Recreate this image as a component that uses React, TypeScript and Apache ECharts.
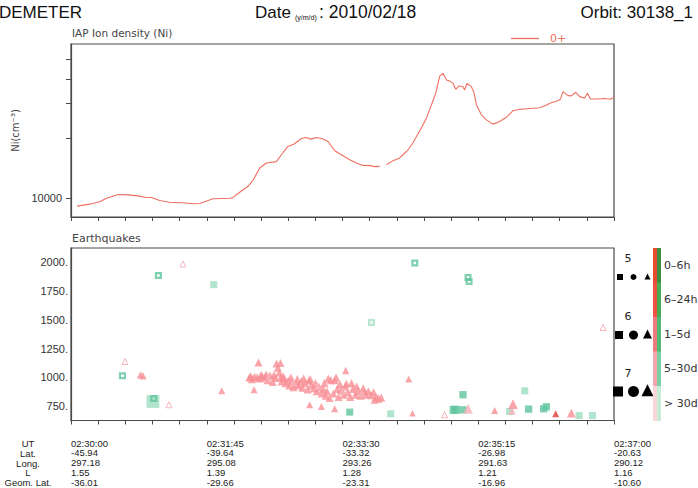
import React, { useEffect, useRef } from 'react';
import * as echarts from 'echarts';

// Orbit table (x axis of the earthquake panel), seconds after 02:30:00
const utSeconds = [0, 105, 210, 315, 420];
const utLabels = ['02:30:00', '02:31:45', '02:33:30', '02:35:15', '02:37:00'];
const latValues = ['-45.94', '-39.64', '-33.32', '-26.98', '-20.63'];
const longValues = ['297.18', '295.08', '293.26', '291.63', '290.12'];
const lValues = ['1.55', '1.39', '1.28', '1.21', '1.16'];
const geomLatValues = ['-36.01', '-29.66', '-23.31', '-16.96', '-10.60'];
const rowNames = ['UT', 'Lat.', 'Long.', 'L', 'Geom. Lat.'];

// Ni tick values
const niTicks = [10000, 20000, 30000, 40000, 50000];
const niLabels = [10000];
const quakeTicks = [750, 1000, 1250, 1500, 1750, 2000];

// IAP O+ ion density: [seconds after 02:30:00, Ni (cm^-3)]
const ionDensity: any[] = [
  [4.6, 9080], [14.5, 9290], [22.2, 9550], [27.4, 9950], [36.4, 10390], [44.1, 10350],
  [51.8, 10230], [58.3, 10040], [62.2, 10040], [68.6, 9690], [76.3, 9500], [85.4, 9440],
  [95.7, 9330], [99.6, 9360], [109.8, 9890], [122.8, 9950], [124.8, 10000], [130.5, 10670],
  [136.9, 11440], [140.8, 12270], [146, 14160], [151.1, 15000], [158.9, 15240], [162.7, 16520],
  [167.8, 18200], [173, 18780], [178.2, 19960], [181.5, 20180], [185.9, 19820], [189.8, 20180],
  [194.5, 19900], [198.8, 19280], [204, 17300], [207.8, 16700], [215.6, 15600], [220.8, 15000],
  [225.9, 14590], [231, 14550], [234.9, 14380], [238.8, 14420], [241.4, '-'], [244, 14700],
  [249.1, 15420], [254.2, 15910], [256.8, 16520], [260.7, 17500], [264.5, 18930], [267.2, 20420],
  [271, 22540], [274.9, 25300], [278.8, 29500], [282.1, 33800], [285.2, 41300], [287.7, 42650],
  [290.4, 39450], [292.9, 38960], [295.5, 37940], [297.6, 35400], [300.1, 36800], [303.2, 36500],
  [304.5, 35150], [306.3, 37940], [309.7, 36500], [311.7, 34050], [313.6, 29500], [317.4, 26300],
  [321.3, 24800], [326.4, 23600], [331.6, 24330], [336.8, 25580], [341.9, 27600], [347.1, 28070],
  [352.3, 28200], [357.4, 28390], [362.5, 28580], [367.7, 29420], [370.3, 30100], [375.5, 30800],
  [378.6, 31550], [380.6, 34450], [384.4, 32900], [387.1, 32800], [390.4, 34200], [393.5, 32500],
  [397.3, 31900], [399.4, 33800], [401.8, 31620], [406.4, 31620], [412.8, 31800], [416.7, 31550],
  [420, 32150],
];

// Earthquakes: [seconds after 02:30:00, value, magnitude]
const triangles1to5d = [
  [53.7, 1022, 5.5], [55.7, 1014, 5.5], [116.6, 883, 5.4],
  [138, 1000, 5.8], [139, 1010, 5.8], [140, 985, 5.8], [141.6, 892, 5.4], [142, 1005, 5.8],
  [144, 1000, 5.8], [145, 1130, 5.8], [146, 990, 5.8], [147, 1020, 5.8], [148, 1010, 5.8],
  [150, 1000, 5.8], [151, 1025, 5.8], [152, 975, 5.8], [154, 1015, 5.8], [156, 960, 5.8],
  [157, 1020, 5.8], [158, 995, 5.8], [159, 1120, 5.8], [160, 1085, 5.8], [161, 1040, 5.8],
  [162, 1125, 5.8], [162.5, 1000, 5.8], [163, 965, 5.8], [164, 1010, 5.8], [165, 990, 5.8],
  [166, 950, 5.8], [168, 970, 5.8], [169, 930, 5.8], [170, 1000, 5.8], [171, 960, 5.8],
  [172, 915, 5.8], [174, 945, 5.8], [175, 985, 5.8], [176, 930, 5.8], [178, 965, 5.8],
  [179, 910, 5.8], [180, 990, 5.8], [181, 950, 5.8], [183, 895, 5.8], [184, 970, 5.8],
  [185, 985, 5.8], [186, 930, 5.8], [188, 905, 5.8], [189, 950, 5.8], [190, 880, 5.8],
  [192, 915, 5.8], [194, 860, 5.8], [195, 900, 5.8], [196, 950, 5.8], [197, 840, 5.8],
  [198, 880, 5.8], [199, 990, 5.8], [200, 820, 5.8], [201, 975, 5.8], [203, 860, 5.8],
  [204, 975, 5.8], [205, 1000, 5.8], [206, 900, 5.8], [207, 830, 5.8], [208, 940, 5.8],
  [209, 890, 5.8], [211, 850, 5.8], [212, 920, 5.8], [212.5, 1060, 5.5], [213, 945, 5.8],
  [214, 870, 5.8], [216, 830, 5.8], [217, 950, 5.8], [218, 900, 5.8], [220, 850, 5.8],
  [221, 920, 5.8], [222, 880, 5.8], [224, 840, 5.8], [226, 905, 5.8], [226.5, 870, 5.8],
  [228, 850, 5.8], [230, 880, 5.8], [232, 845, 5.8], [234, 870, 5.8], [236, 830, 5.8],
  [238, 815, 5.8], [240, 825, 5.8], [234.9, 805, 5.8],
  [184.6, 762, 5.4], [193.7, 747, 5.4], [204, 727, 5.4],
  [261.2, 985, 5.4], [264.1, 689, 5.2], [327.7, 712, 5.4], [341.9, 768, 6.4], [387, 689, 6.1],
];
const triangles5to30d = [
  [307.1, 727, 6.5], [341, 711, 5.7], [153, 1000, 5.8], [172, 955, 5.8], [191, 925, 5.8],
  [210, 880, 5.8], [225, 860, 5.8],
];
const trianglesOver30d = [
  [86.6, 1986, 5.0], [41.8, 1138, 5.0], [75.8, 762, 5.0], [289, 675, 5.0], [411.5, 1434, 5.0],
];
const triangles0to6h = [
  [374.9, 683, 5.4],
];
const squaresHollow1to5d = [
  [67.6, 1886, 5.4], [39.8, 1014, 5.4], [64, 816, 5.4], [265.9, 1994, 5.4],
  [307.1, 1869, 5.4], [307.9, 1834, 5.4],
];
const squaresHollow5to30d = [
  [232.4, 1478, 5.4],
];
const squaresSolid1to5d = [
  [215.6, 698, 5.4], [303.2, 849, 5.5], [296, 718, 5.8], [297.6, 718, 5.8], [303.2, 718, 5.5],
  [354, 724, 5.5], [365.6, 727, 5.5], [367.7, 744, 5.5],
];
const squaresSolid5to30d = [
  [110.4, 1806, 5.4], [63.4, 790, 7.6], [247.3, 683, 5.4], [339.3, 703, 5.4], [351, 883, 5.4],
  [393, 668, 5.4], [403.3, 668, 5.4],
];

const magLegend = ['5', '6', '7'];
const ageLabels = ['0\u20136h', '6\u201324h', '1\u20135d', '5\u201330d', '> 30d'];

const FONT = 'DejaVu Sans, Verdana, sans-serif';
const NUMFONT = 'Liberation Sans, Arial, sans-serif';
const HOLLOW_SQ = 'path://M0,0H10V10H0Z M3.2,3.2V6.8H6.8V3.2Z';

const magSize = (m: number) => 6 + (m - 5) * 2.6;

function quakeSeries(name: string, data: number[][], symbol: string, itemStyle: any) {
  return {
    name,
    type: 'scatter',
    xAxisIndex: 1,
    yAxisIndex: 1,
    data,
    symbol,
    symbolSize: (v: number[]) => magSize(v[2]),
    itemStyle,
    silent: true,
  };
}

export default function App() {
  const ref = useRef<HTMLDivElement>(null);
  useEffect(() => {
    if (!ref.current) return;
    const chart = echarts.init(ref.current, undefined, { renderer: 'svg' });
    const axisColor = '#4a4a4a';
    const lineColor = '#ef6f60';
    const leftBar = ['#e94b30', '#ee5240', '#ea7b7f', '#f4a6ab', '#fbd6d8'];
    const rightBar = ['#3e8f41', '#47ac55', '#50b874', '#7ccfa3', '#c6ecd8'];
    const barTop = 248;
    const segH = 172.5 / 5;
    const rowStep = 9.8;
    const rowTop = 443.5;
    const graphics: any[] = [
      { type: 'text', x: -1, y: 12, style: { text: 'DEMETER', fontSize: 17, fontFamily: NUMFONT, fill: '#111', verticalAlign: 'middle' } },
      { type: 'text', x: 255, y: 12, style: { text: 'Date', fontSize: 17, fontFamily: NUMFONT, fill: '#111', verticalAlign: 'middle' } },
      { type: 'text', x: 295, y: 17, style: { text: '(y/m/d)', fontSize: 7, fontFamily: NUMFONT, fill: '#111', verticalAlign: 'middle' } },
      { type: 'text', x: 319, y: 12, style: { text: ': 2010/02/18', fontSize: 17.5, fontFamily: NUMFONT, fill: '#111', verticalAlign: 'middle' } },
      { type: 'text', x: 693, y: 12, style: { text: 'Orbit: 30138_1', fontSize: 17, fontFamily: NUMFONT, fill: '#111', align: 'right', verticalAlign: 'middle' } },
      { type: 'text', x: 72, y: 33, style: { text: 'IAP Ion density (Ni)', fontSize: 10.5, fontFamily: FONT, fill: '#444', verticalAlign: 'middle' } },
      { type: 'text', x: 72, y: 238, style: { text: 'Earthquakes', fontSize: 11, fontFamily: FONT, fill: '#444', verticalAlign: 'middle' } },
    ];
    rowNames.forEach((t, i) => {
      graphics.push({ type: 'text', x: 28, y: rowTop + i * rowStep, style: { text: t, fontSize: 9.5, fontFamily: NUMFONT, fill: '#222', align: 'center', verticalAlign: 'middle' } });
    });
    // magnitude legend
    const rows = [
      { ly: 258, cy: 277, sq: 6, r: 3, tri: 6 },
      { ly: 316, cy: 335, sq: 8, r: 4.5, tri: 9 },
      { ly: 373, cy: 391.5, sq: 10, r: 5.5, tri: 12 },
    ];
    rows.forEach((r, i) => {
      graphics.push({ type: 'text', x: 628, y: r.ly, style: { text: magLegend[i], fontSize: 11, fontFamily: FONT, fill: '#222', align: 'center', verticalAlign: 'middle' } });
      graphics.push({ type: 'rect', shape: { x: 623 - r.sq, y: r.cy - r.sq / 2, width: r.sq, height: r.sq }, style: { fill: '#000' } });
      graphics.push({ type: 'circle', shape: { cx: 633.5, cy: r.cy, r: r.r }, style: { fill: '#000' } });
      const h = r.tri;
      graphics.push({ type: 'polygon', shape: { points: [[647.5, r.cy - h * 0.6], [647.5 + h / 2, r.cy + h * 0.4], [647.5 - h / 2, r.cy + h * 0.4]] }, style: { fill: '#000' } });
    });
    for (let i = 0; i < 5; i++) {
      graphics.push({ type: 'rect', shape: { x: 653, y: barTop + i * segH, width: 4, height: segH + 0.5 }, style: { fill: leftBar[i] } });
      graphics.push({ type: 'rect', shape: { x: 657, y: barTop + i * segH, width: 4, height: segH + 0.5 }, style: { fill: rightBar[i] } });
      graphics.push({ type: 'text', x: 664, y: barTop + i * segH + segH / 2, style: { text: ageLabels[i], fontSize: 11, fontFamily: FONT, fill: '#333', verticalAlign: 'middle' } });
    }

    const xCommon = {
      type: 'value', min: 0, max: 420, interval: 21,
      axisLine: { show: true, lineStyle: { color: axisColor, width: 1.2 } },
      axisTick: { show: true, inside: false, length: 4, lineStyle: { color: axisColor, width: 1 } },
      splitLine: { show: false },
    };

    chart.setOption({
      animation: false,
      grid: [
        { left: 71, top: 44, width: 543, height: 173, show: true, borderColor: axisColor, borderWidth: 1.2 },
        { left: 71, top: 248, width: 543, height: 172.5, show: true, borderColor: axisColor, borderWidth: 1.2 },
      ],
      legend: {
        data: [{ name: '0+', icon: 'rect' }], left: 506, top: 28, itemWidth: 28, itemHeight: 1.3, itemGap: 0,
        textStyle: { color: lineColor, fontFamily: FONT, fontSize: 11, padding: [0, 0, 0, 6] },
      },
      xAxis: [
        { ...xCommon, gridIndex: 0, axisLabel: { show: false } },
        {
          ...xCommon, gridIndex: 1,
          axisLabel: {
            show: true, customValues: utSeconds, align: 'left', margin: 17.6,
            fontFamily: NUMFONT, fontSize: 9.5, lineHeight: rowStep, color: '#222',
            formatter: (v: number) => {
              const i = utSeconds.indexOf(Math.round(v));
              if (i < 0) return '';
              return [utLabels[i], latValues[i], longValues[i], lValues[i], geomLatValues[i]].join('\n');
            },
          },
        },
      ],
      yAxis: [
        {
          gridIndex: 0, type: 'log', min: 8000, max: 60000,
          axisLine: { show: true, lineStyle: { color: axisColor, width: 1.2 } },
          axisTick: { show: true, customValues: niTicks, length: 5, lineStyle: { color: axisColor, width: 1 } },
          axisLabel: { customValues: niLabels, fontFamily: NUMFONT, fontSize: 11, color: '#333', margin: 9, formatter: (v: number) => String(Math.round(v)) },
          splitLine: { show: false },
          minorTick: { show: false },
          name: 'Ni(cm\u207B\u00B3)', nameLocation: 'middle', nameRotate: 90, nameGap: 43,
          nameTextStyle: { fontFamily: FONT, fontSize: 10, color: '#444' },
        },
        {
          gridIndex: 1, type: 'value', min: 625, max: 2125,
          axisLine: { show: true, lineStyle: { color: axisColor, width: 1.2 } },
          axisTick: { show: false },
          axisLabel: { customValues: quakeTicks, fontFamily: NUMFONT, fontSize: 11, color: '#333', margin: 3, formatter: (v: number) => v + '.' },
          splitLine: { show: false },
        },
      ],
      series: [
        {
          name: '0+', type: 'line', xAxisIndex: 0, yAxisIndex: 0, data: ionDensity,
          symbol: 'none', showSymbol: false, connectNulls: false,
          lineStyle: { color: lineColor, width: 1.1 }, itemStyle: { color: lineColor },
        },
        quakeSeries('sq5to30', squaresSolid5to30d, 'rect', { color: '#a8e1c7', opacity: 0.9 }),
        quakeSeries('sq1to5', squaresSolid1to5d, 'rect', { color: '#5ec49c' }),
        quakeSeries('sqh5to30', squaresHollow5to30d, HOLLOW_SQ, { color: '#a8e1c7' }),
        quakeSeries('sqh1to5', squaresHollow1to5d, HOLLOW_SQ, { color: '#5ec49c' }),
        quakeSeries('tri30', trianglesOver30d, 'triangle', { color: '#ffffff', borderColor: '#f4a2ab', borderWidth: 1 }),
        quakeSeries('tri1to5', triangles1to5d, 'triangle', { color: '#f78f95' }),
        quakeSeries('tri5to30', triangles5to30d, 'triangle', { color: '#f8b3b9' }),
        quakeSeries('tri0to6', triangles0to6h, 'triangle', { color: '#e23a36' }),
      ],
      graphic: graphics,
    });
    return () => chart.dispose();
  }, []);
  return <div ref={ref} style={{ position: 'fixed', left: 0, top: 0, width: 698, height: 488, background: '#fff' }} />;
}
